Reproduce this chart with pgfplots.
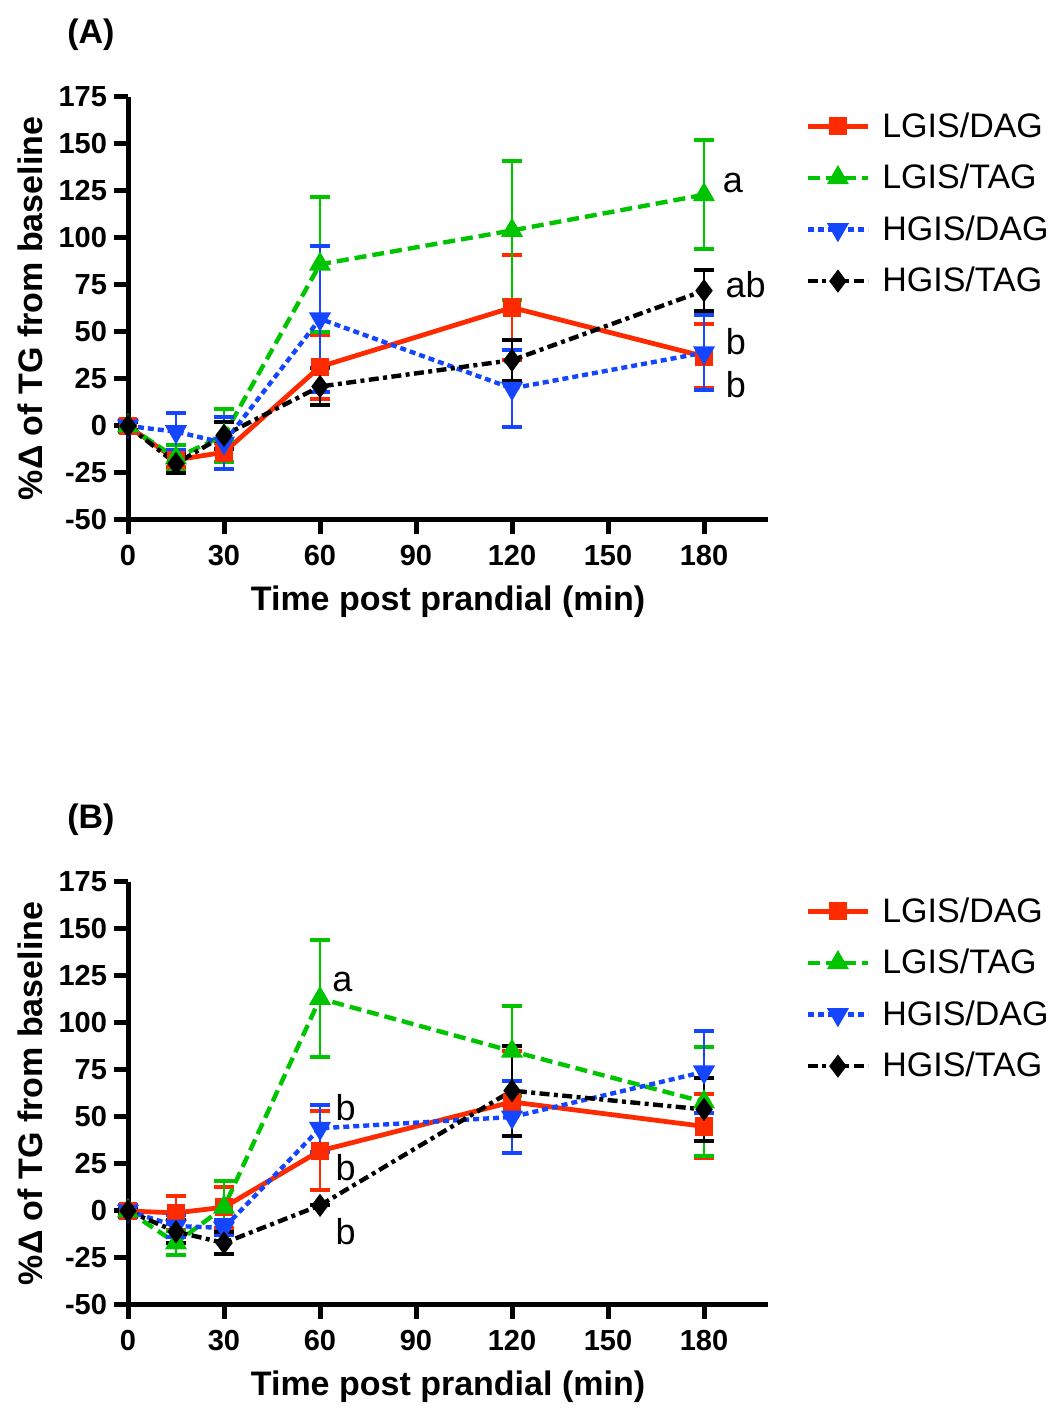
\documentclass[border=0pt]{standalone}
\usepackage{fontspec}
\setmainfont{Liberation Sans}
\usepackage{pgfplots}
\usepackage{pgfplotstable}
\pgfplotsset{compat=1.18}
\definecolor{cred}{HTML}{FF2B00}
\definecolor{cgreen}{HTML}{00C400}
\definecolor{cblue}{HTML}{1446FF}

% panel A: x, mean, SEM
\pgfplotstableread{
x y e
0 0 2
15 -18 4
30 -14 5
60 31.5 17
120 63 28
180 37 17
}\aLD
\pgfplotstableread{
x y e
0 0 2
15 -17 7
30 -5 14
60 86 36
120 104 37
180 123 29
}\aLT
\pgfplotstableread{
x y e
0 0 3
15 -3 10
30 -9 14
60 57 39
120 20 20.5
180 39 20
}\aHD
\pgfplotstableread{
x y e
0 0 2
15 -20 5
30 -5 7
60 21 10
120 35 11
180 72 11
}\aHT
% panel B
\pgfplotstableread{
x y e
0 0 2
15 -1 9
30 2 11
60 32 21
120 58 27
180 45 17
}\bLD
\pgfplotstableread{
x y e
0 0 2
15 -17 6.5
30 2 14
60 113 31
120 85 24
180 58 29
}\bLT
\pgfplotstableread{
x y e
0 0 3
15 -8 6
30 -9 4
60 44 12.5
120 50 19
180 74 22
}\bHD
\pgfplotstableread{
x y e
0 0 2
15 -11 6
30 -17 6
60 3 0
120 64 24
180 54 17
}\bHT

\pgfplotsset{
  panel/.style={
    scale only axis, width=320pt, height=211.5pt,
    xmin=0, xmax=200, ymin=-50, ymax=175,
    xtick={0,30,...,180}, ytick={-50,-25,...,175},
    axis x line*=bottom, axis y line*=left,
    axis line style={line width=2.5pt},
    major tick style={line width=2.5pt, black},
    tick align=outside, major tick length=7pt,
    ticklabel style={font=\fontsize{14.5}{14.5}\selectfont\bfseries},
    xticklabel style={yshift=-2pt},
    /pgf/number format/assume math mode=true,
    xlabel={Time post prandial (min)},
    ylabel={\%Δ of TG from baseline},
    label style={font=\fontsize{17}{17}\selectfont\bfseries},
    xlabel style={at={(axis description cs:0.5,-0.194)}, anchor=center},
    ylabel style={at={(axis description cs:-0.152,0.5)}, anchor=center},
    clip=false,
    legend style={at={(1.058,0.974)}, anchor=north west, draw=none, fill=none,
      font=\fontsize{17}{17}\selectfont, row sep=8pt, inner sep=0pt},
    legend cell align=left,
    legend image code/.code={\draw[mark repeat=2,mark phase=2] plot coordinates {(0pt,0pt) (15pt,0pt) (30pt,0pt)};
      \path (34pt,0pt);},
    error bars/y dir=both, error bars/y explicit,
    error bars/error bar style={line width=1.4pt, solid},
    error bars/error mark options={rotate=90, mark size=5pt, line width=2pt, solid},
  },
  sLD/.style={cred, line width=2.4pt, mark=square*, mark size=3.4pt, mark options={solid}},
  sLT/.style={cgreen, line width=2.2pt, dash pattern=on 6pt off 3pt, mark=triangle*, mark size=4.2pt, mark options={solid}},
  sHD/.style={cblue, line width=2.2pt, dash pattern=on 3pt off 2pt, mark=triangle*, mark size=4.2pt, mark options={solid, rotate=180}},
  sHT/.style={black, line width=2.2pt, dash pattern=on 5pt off 2.2pt on 2pt off 2.2pt, mark=diamond*, mark size=4pt, mark options={solid}},
}

\begin{document}
\begin{tikzpicture}
\useasboundingbox (0,0) rectangle (525.5pt,704pt);

\begin{axis}[panel, at={(64pt,444pt)}, anchor=south west]
  \addplot[sLD] table[x=x, y=y, y error=e] {\aLD};
  \addplot[sLT] table[x=x, y=y, y error=e] {\aLT};
  \addplot[sHD] table[x=x, y=y, y error=e] {\aHD};
  \addplot[sHT] table[x=x, y=y, y error=e] {\aHT};
  \legend{LGIS/DAG, LGIS/TAG, HGIS/DAG, HGIS/TAG}
  \node[font=\fontsize{18}{18}\selectfont] at (axis cs:189,129) {a};
  \node[font=\fontsize{18}{18}\selectfont] at (axis cs:193,75) {ab};
  \node[font=\fontsize{18}{18}\selectfont] at (axis cs:190,45) {b};
  \node[font=\fontsize{18}{18}\selectfont] at (axis cs:190,22) {b};
  \node[font=\fontsize{17}{17}\selectfont\bfseries] at (rel axis cs:-0.058,1.147) {(A)};
\end{axis}

\begin{axis}[panel, at={(64pt,51.5pt)}, anchor=south west]
  \addplot[sLD] table[x=x, y=y, y error=e] {\bLD};
  \addplot[sLT] table[x=x, y=y, y error=e] {\bLT};
  \addplot[sHD] table[x=x, y=y, y error=e] {\bHD};
  \addplot[sHT] table[x=x, y=y, y error=e] {\bHT};
  \legend{LGIS/DAG, LGIS/TAG, HGIS/DAG, HGIS/TAG}
  \node[font=\fontsize{18}{18}\selectfont] at (axis cs:67,122) {a};
  \node[font=\fontsize{18}{18}\selectfont] at (axis cs:68,55) {b};
  \node[font=\fontsize{18}{18}\selectfont] at (axis cs:68,23) {b};
  \node[font=\fontsize{18}{18}\selectfont] at (axis cs:68,-11) {b};
  \node[font=\fontsize{17}{17}\selectfont\bfseries] at (rel axis cs:-0.058,1.147) {(B)};
\end{axis}
\end{tikzpicture}
\end{document}
